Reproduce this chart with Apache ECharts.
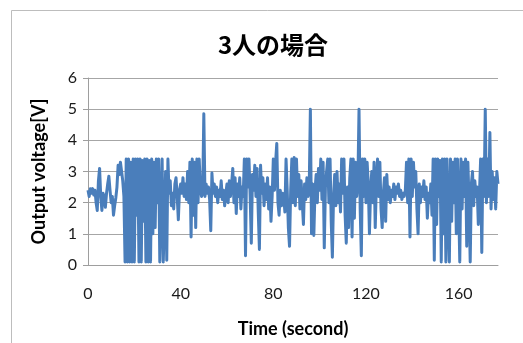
<!DOCTYPE html>
<html>
<head>
<meta charset="utf-8">
<script src="https://cdn.jsdelivr.net/npm/echarts@6/dist/echarts.min.js"></script>
<style>
  html, body { margin: 0; padding: 0; background: #ffffff; }
  #chart { width: 523px; height: 343px; }
</style>
</head>
<body>
<div id="chart"></div>
<script>
// Sampling: one reading every half second, starting at t = 0 s
const sampleStep = 0.5;

// Output voltage [V], grouped in 10-second blocks
const v000 = [2.4, 2.2, 2.45, 2.3, 2.45, 2.25, 2.4, 2.0, 1.75, 2.7, 3.1, 2.2, 1.75, 2.3, 2.2, 1.85, 2.3, 2.6, 2.85, 2.4];
const v010 = [2.0, 2.2, 1.6, 1.9, 2.15, 2.5, 3.2, 2.9, 3.3, 3.0, 2.7, 2.2, 0.1, 3.4, 0.1, 3.4, 0.1, 3.3, 0.1, 3.4];
const v020 = [0.1, 3.4, 1.6, 3.4, 0.1, 3.4, 0.1, 3.35, 1.4, 3.4, 0.1, 3.4, 0.1, 3.35, 0.1, 3.4, 1.0, 3.3, 1.2, 3.4];
const v030 = [2.0, 3.4, 0.1, 0.15, 3.4, 0.1, 0.1, 3.0, 0.15, 3.4, 2.3, 2.7, 1.9, 2.3, 1.8, 2.6, 2.8, 2.2, 1.45, 2.4];
const v040 = [2.6, 2.3, 2.8, 2.2, 2.6, 2.1, 3.0, 2.0, 3.3, 0.9, 3.4, 1.6, 3.3, 1.2, 3.4, 2.0, 3.4, 2.5, 2.2, 2.3];
const v050 = [4.85, 2.2, 2.6, 2.3, 2.5, 2.1, 1.1, 2.95, 2.3, 2.6, 2.2, 2.5, 2.0, 2.4, 2.2, 2.7, 2.1, 2.4, 1.9, 2.3];
const v060 = [2.6, 2.0, 2.7, 2.2, 2.6, 3.1, 2.0, 2.8, 1.65, 2.6, 2.2, 2.8, 1.8, 2.5, 2.2, 3.4, 0.3, 3.4, 2.5, 3.4];
const v070 = [2.2, 0.7, 2.9, 2.4, 3.2, 2.2, 3.1, 1.7, 0.5, 3.2, 2.3, 2.8, 1.9, 2.6, 2.1, 2.8, 1.8, 2.5, 1.4, 2.2];
const v080 = [3.4, 2.4, 3.3, 3.9, 2.0, 1.6, 2.4, 1.9, 2.3, 2.2, 1.7, 3.4, 2.4, 1.2, 0.6, 2.4, 3.4, 2.0, 3.45, 1.9];
const v090 = [3.4, 2.2, 2.9, 1.8, 2.7, 2.0, 1.3, 2.6, 2.1, 2.8, 2.2, 2.5, 5.0, 1.0, 2.6, 0.95, 2.4, 2.9, 2.0, 3.1];
const v100 = [2.4, 3.4, 2.1, 3.3, 0.55, 2.5, 3.0, 3.4, 2.0, 3.4, 1.4, 0.25, 2.2, 2.9, 1.9, 3.0, 2.0, 2.6, 1.7, 3.4];
const v110 = [2.3, 3.4, 1.6, 0.7, 2.5, 1.2, 2.8, 3.4, 0.9, 3.4, 1.5, 3.3, 2.2, 2.6, 5.0, 1.8, 0.3, 3.4, 2.2, 3.4];
const v120 = [2.0, 3.3, 2.6, 1.0, 2.4, 3.0, 2.0, 3.3, 1.2, 2.6, 3.4, 2.2, 3.3, 1.8, 1.2, 2.3, 2.8, 1.4, 2.9, 2.1];
const v130 = [2.5, 2.0, 2.4, 2.2, 2.6, 2.1, 2.5, 2.3, 2.6, 2.2, 2.4, 2.1, 2.3, 2.2, 2.4, 3.3, 2.0, 3.4, 0.9, 3.4];
const v140 = [2.2, 3.3, 2.5, 3.0, 1.8, 1.0, 2.6, 2.0, 2.5, 2.2, 2.7, 2.1, 2.5, 1.5, 2.3, 2.0, 2.6, 1.6, 3.4, 0.15];
const v150 = [3.4, 1.3, 3.4, 2.2, 3.35, 0.1, 3.4, 1.0, 3.4, 0.1, 3.4, 1.6, 0.1, 3.4, 1.4, 3.3, 2.0, 3.4, 1.0, 3.4];
const v160 = [2.0, 0.1, 3.4, 1.8, 3.3, 2.2, 3.4, 0.6, 3.3, 2.0, 0.1, 2.6, 3.0, 1.9, 2.7, 2.2, 2.5, 1.3, 2.3, 3.4];
const v170 = [0.4, 3.4, 2.2, 5.0, 2.0, 3.4, 2.2, 4.25, 1.8, 3.0, 2.1, 2.8, 1.8, 3.0, 2.6];

// Axis ticks
const xTickStep = 40;
const xMax = 177;
const yTicks = [0, 1, 2, 3, 4, 5, 6];

const voltage = [].concat(v000, v010, v020, v030, v040, v050, v060, v070, v080,
  v090, v100, v110, v120, v130, v140, v150, v160, v170);
const seriesData = voltage.map((v, i) => [i * sampleStep, v]);

const latin = 'Lato, "Noto Sans", sans-serif';
const chart = echarts.init(document.getElementById('chart'), null, { renderer: 'canvas' });

chart.setOption({
  animation: false,
  backgroundColor: '#ffffff',
  title: {
    text: '3人の場合',
    left: 268,
    top: 28,
    textAlign: 'center',
    textStyle: {
      fontFamily: '"Noto Sans CJK JP", ' + latin,
      fontSize: 24,
      fontWeight: 'bold',
      color: '#000000'
    }
  },
  graphic: [
    {
      type: 'polyline',
      shape: { points: [[11.5, 343], [11.5, 10.5], [523, 10.5]] },
      style: { stroke: '#bdbdbd', lineWidth: 1, fill: null },
      silent: true
    }
  ],
  grid: { left: 88, right: 25, top: 78, bottom: 78, containLabel: false },
  xAxis: {
    type: 'value',
    min: 0,
    max: xMax,
    interval: xTickStep,
    name: 'Time (second)',
    nameLocation: 'middle',
    nameGap: 55,
    nameTextStyle: { fontFamily: latin, fontSize: 18, fontWeight: 'bold', color: '#000000' },
    axisLine: { show: true, lineStyle: { color: '#9e9e9e', width: 1 } },
    axisTick: { show: false },
    splitLine: { show: false },
    axisLabel: {
      showMaxLabel: false,
      margin: 21,
      fontFamily: latin,
      fontSize: 16,
      color: '#1a1a1a'
    }
  },
  yAxis: {
    type: 'value',
    min: yTicks[0],
    max: yTicks[yTicks.length - 1],
    interval: 1,
    name: 'Output voltage[V]',
    nameLocation: 'middle',
    nameRotate: 90,
    nameGap: 40,
    nameTextStyle: { fontFamily: latin, fontSize: 18, fontWeight: 'bold', color: '#000000' },
    axisLine: { show: true, lineStyle: { color: '#9e9e9e', width: 1 } },
    axisTick: { show: true, inside: false, length: 5, lineStyle: { color: '#9e9e9e' } },
    splitLine: { show: true, lineStyle: { color: '#a6a6a6', width: 1 } },
    axisLabel: {
      margin: 11,
      fontFamily: latin,
      fontSize: 16,
      color: '#1a1a1a'
    }
  },
  series: [
    {
      type: 'line',
      data: seriesData,
      showSymbol: false,
      smooth: false,
      lineStyle: { color: '#4a7ebb', width: 3, join: 'round' },
      itemStyle: { color: '#4a7ebb' }
    }
  ]
});
</script>
</body>
</html>
